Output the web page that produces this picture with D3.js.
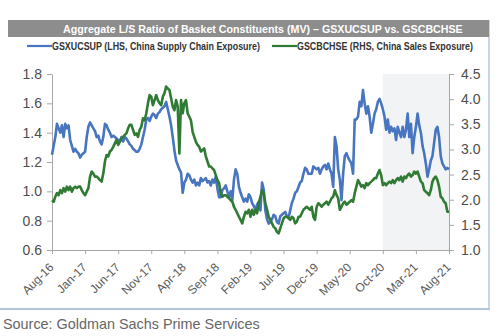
<!DOCTYPE html>
<html>
<head>
<meta charset="utf-8">
<script src="https://cdn.jsdelivr.net/npm/d3@7/dist/d3.min.js"></script>
<style>
  html, body { margin: 0; padding: 0; background: #fff; }
  svg { display: block; font-family: "Liberation Sans", Arial, sans-serif; }
</style>
</head>
<body>
<svg id="chart" width="499" height="336"></svg>
<script>
// ---- Data ----
const titleText = "Aggregate L/S Ratio of Basket Constituents (MV) \u2013 GSXUCSUP vs. GSCBCHSE";
const seriesNames = ["GSXUCSUP (LHS, China Supply Chain Exposure)", "GSCBCHSE (RHS, China Sales Exposure)"];
const sourceText = "Source: Goldman Sachs Prime Services";

const tickLabels = ["Aug-16","Jan-17","Jun-17","Nov-17","Apr-18","Sep-18","Feb-19","Jul-19","Dec-19","May-20","Oct-20","Mar-21","Aug-21"];
const tickMonths = [0,5,10,15,20,25,30,35,40,45,50,55,60]; // months since Aug-16
const leftTicks = [0.6,0.8,1.0,1.2,1.4,1.6,1.8];
const rightTicks = [1.0,1.5,2.0,2.5,3.0,3.5,4.0,4.5];
const shadeStartMonth = 50; // Oct-20

// observation dates: months since Aug-16, roughly weekly
const months = d3.range(0, 60.001, 0.25);

// GSXUCSUP (LHS)
const gsxucsup = [
  1.25,1.31,1.37,1.46,1.43,1.40,1.45,1.37,1.46,1.43,
  1.45,1.35,1.31,1.27,1.29,1.27,1.26,1.23,1.25,1.26,
  1.27,1.37,1.44,1.47,1.45,1.43,1.41,1.37,1.38,1.34,
  1.32,1.37,1.46,1.45,1.42,1.40,1.37,1.38,1.37,1.36,
  1.35,1.34,1.37,1.34,1.37,1.36,1.34,1.32,1.31,1.29,
  1.28,1.27,1.27,1.29,1.32,1.37,1.42,1.49,1.50,1.48,
  1.51,1.53,1.52,1.50,1.53,1.54,1.56,1.57,1.58,1.61,
  1.56,1.51,1.45,1.37,1.28,1.21,1.18,
  1.15,1.13,0.99,1.06,1.08,1.12,1.11,1.08,1.06,1.08,
  1.04,1.06,1.04,1.09,1.07,1.08,1.09,1.06,1.07,1.04,
  1.08,1.06,1.10,1.02,0.96,0.96,1.01,1.02,1.04,1.00,
  0.96,1.00,0.94,1.08,1.15,1.12,1.03,0.99,0.96,0.93,
  0.95,0.93,0.98,0.96,0.92,0.90,0.87,0.91,0.93,0.87,
  1.06,1.01,0.87,0.81,0.78,0.79,0.81,0.84,0.83,0.79,
  0.78,0.83,0.84,0.85,0.86,0.83,0.82,0.87,0.92,0.95,
  0.99,1.00,1.03,1.06,1.07,1.12,1.16,1.15,1.12,1.12,
  1.12,
  1.17,1.16,1.15,1.16,1.12,1.15,1.17,1.18,1.15,1.19,
  1.15,1.12,1.03,1.37,1.31,1.15,1.08,0.94,1.12,1.24,
  1.26,1.23,1.21,1.19,1.12,1.49,1.49,1.51,1.61,1.58,
  1.69,1.60,1.53,1.58,1.51,1.40,1.46,1.53,1.56,1.61,
  1.63,1.60,1.56,1.51,1.42,1.49,1.40,1.44,1.41,1.43,
  1.35,1.44,1.40,1.37,1.44,1.37,1.42,1.53,1.37,1.46,
  1.26,1.37,1.44,1.53,1.45,1.40,1.31,1.26,1.19,1.10,
  1.15,1.21,1.24,1.33,1.42,1.44,1.37,1.24,1.19,1.17,
  1.15,1.16,1.15
];

// GSCBCHSE (RHS)
const gscbchse = [
  1.99,1.96,2.06,2.13,2.09,2.19,2.13,2.23,2.16,2.26,
  2.19,2.26,2.16,2.23,2.26,2.23,2.26,2.26,2.19,2.13,
  2.09,2.16,2.23,2.46,2.56,2.52,2.46,2.46,2.43,2.39,
  2.36,2.52,2.76,2.89,2.86,2.96,2.99,3.05,3.12,3.19,
  3.09,3.15,3.22,3.25,3.29,3.32,3.42,3.49,3.49,3.39,
  3.29,3.32,3.25,3.39,3.45,3.62,3.58,3.72,3.92,4.08,
  4.05,3.88,3.98,4.08,3.98,3.92,3.88,4.05,4.12,4.25,
  4.21,4.18,4.02,3.85,3.78,3.98,3.85,
  2.92,3.98,3.72,3.92,3.98,3.72,3.65,3.58,3.35,3.25,
  3.15,3.09,3.05,2.96,2.99,3.02,2.86,2.76,2.66,2.66,
  2.62,2.59,2.49,2.39,2.33,2.13,2.06,2.09,2.09,2.06,
  2.03,1.99,1.96,1.86,1.80,1.73,1.66,1.60,1.53,1.66,
  1.76,1.73,1.80,1.66,1.80,1.70,1.80,1.73,1.93,2.06,
  2.19,2.13,1.93,1.80,1.66,1.60,1.53,1.46,1.43,1.36,
  1.33,1.43,1.53,1.63,1.66,1.66,1.63,1.60,1.66,1.63,
  1.53,1.56,1.66,1.66,1.73,1.80,1.83,1.86,1.83,1.80,
  1.86,
  1.66,1.60,1.86,1.93,1.90,1.86,1.90,1.93,1.96,1.90,
  1.96,2.03,2.06,2.19,2.09,2.03,1.80,1.86,1.93,1.96,
  1.90,1.93,1.96,1.99,1.96,2.13,2.26,2.39,2.33,2.26,
  2.29,2.23,2.33,2.29,2.33,2.36,2.39,2.43,2.43,2.52,
  2.59,2.49,2.29,2.33,2.29,2.33,2.36,2.33,2.39,2.33,
  2.39,2.43,2.39,2.46,2.36,2.46,2.43,2.49,2.52,2.46,
  2.49,2.56,2.52,2.56,2.46,2.36,2.33,2.19,2.16,2.13,
  2.09,2.19,2.36,2.43,2.46,2.39,2.26,2.06,2.03,1.96,
  1.93,1.76,1.76
];

// ---- Drawing ----
const svg = d3.select("#chart");
const blue = "#4775bf", green = "#2f7b34";
const axisColor = "#a6a6a6", labelColor = "#4d4d4d";
const plot = {left: 52, right: 449, top: 74, bottom: 250};

const x = d3.scaleLinear().domain([0, 60]).range([plot.left, plot.right]);
const yL = d3.scaleLinear().domain([0.6, 1.8]).range([plot.bottom, plot.top]);
const yR = d3.scaleLinear().domain([1.0, 4.5]).range([plot.bottom, plot.top]);

// fit a text horizontally to a target width by scaling it (condensed look)
function fitText(sel, x0, y0, width) {
  const natural = sel.node().getComputedTextLength();
  const s = width / natural;
  sel.attr("x", 0).attr("y", 0).attr("transform", `translate(${x0},${y0}) scale(${s},1)`);
}

// frame lines (right and bottom)
svg.append("line").attr("x1", 489).attr("x2", 489).attr("y1", 20).attr("y2", 309)
  .attr("stroke", "#b4c5de").attr("stroke-width", 1.5);
svg.append("line").attr("x1", 0).attr("x2", 490).attr("y1", 309).attr("y2", 309)
  .attr("stroke", "#b4c5de").attr("stroke-width", 2);

// title bar
svg.append("rect").attr("x", 8).attr("y", 20).attr("width", 481).attr("height", 17).attr("fill", "#8d8d8d");
const title = svg.append("text").attr("fill", "#fff").attr("font-weight", "bold").attr("font-size", 10.5)
  .text(titleText);
fitText(title, 63, 32.5, 400);

// legend
const legend = [
  {name: seriesNames[0], color: blue, x1: 27, tx: 52, len: 208},
  {name: seriesNames[1], color: green, x1: 272, tx: 297, len: 176}
];
legend.forEach(l => {
  svg.append("line").attr("x1", l.x1).attr("x2", l.tx).attr("y1", 46).attr("y2", 46)
    .attr("stroke", l.color).attr("stroke-width", 2.2);
  const t = svg.append("text").attr("font-size", 11).attr("font-weight", "bold")
    .attr("fill", "#333").text(l.name);
  fitText(t, l.tx, 50, l.len);
});

// shaded region
svg.append("rect").attr("x", x(shadeStartMonth)).attr("y", plot.top)
  .attr("width", x(60) - x(shadeStartMonth)).attr("height", plot.bottom - plot.top)
  .attr("fill", "#f2f3f5");

// axes
function styleAxis(g) {
  g.select(".domain").attr("stroke", axisColor);
  g.selectAll(".tick line").attr("stroke", axisColor);
  g.selectAll("text").attr("fill", labelColor).attr("font-family", "Liberation Sans, Arial, sans-serif");
}
const gL = svg.append("g").attr("transform", `translate(${plot.left},0)`)
  .call(d3.axisLeft(yL).tickValues(leftTicks).tickFormat(d3.format(".1f")).tickSize(5).tickSizeOuter(0).tickPadding(5));
styleAxis(gL); gL.selectAll("text").attr("font-size", 14);

const gR = svg.append("g").attr("transform", `translate(${plot.right},0)`)
  .call(d3.axisRight(yR).tickValues(rightTicks).tickFormat(d3.format(".1f")).tickSize(5).tickSizeOuter(0).tickPadding(7));
styleAxis(gR); gR.selectAll("text").attr("font-size", 14);

const gB = svg.append("g").attr("transform", `translate(0,${plot.bottom})`)
  .call(d3.axisBottom(x).tickValues(tickMonths).tickFormat((d, i) => tickLabels[i]).tickSize(4).tickSizeOuter(0));
styleAxis(gB);
gB.selectAll("text").attr("font-size", 12).attr("text-anchor", "end").attr("fill", "#595959")
  .attr("dy", null).attr("y", 0)
  .attr("transform", "translate(2,18) rotate(-45)");

// lines
const lineL = d3.line().x((d, i) => x(months[i])).y(d => yL(d)).curve(d3.curveLinear);
const lineR = d3.line().x((d, i) => x(months[i])).y(d => yR(d)).curve(d3.curveLinear);
svg.append("path").datum(gsxucsup).attr("d", lineL).attr("fill", "none")
  .attr("stroke", blue).attr("stroke-width", 2.6).attr("stroke-linejoin", "round");
svg.append("path").datum(gscbchse).attr("d", lineR).attr("fill", "none")
  .attr("stroke", green).attr("stroke-width", 2.6).attr("stroke-linejoin", "round");

// source
svg.append("text").attr("x", 3).attr("y", 329).attr("font-size", 14.4).attr("fill", "#666").text(sourceText);
</script>
</body>
</html>
